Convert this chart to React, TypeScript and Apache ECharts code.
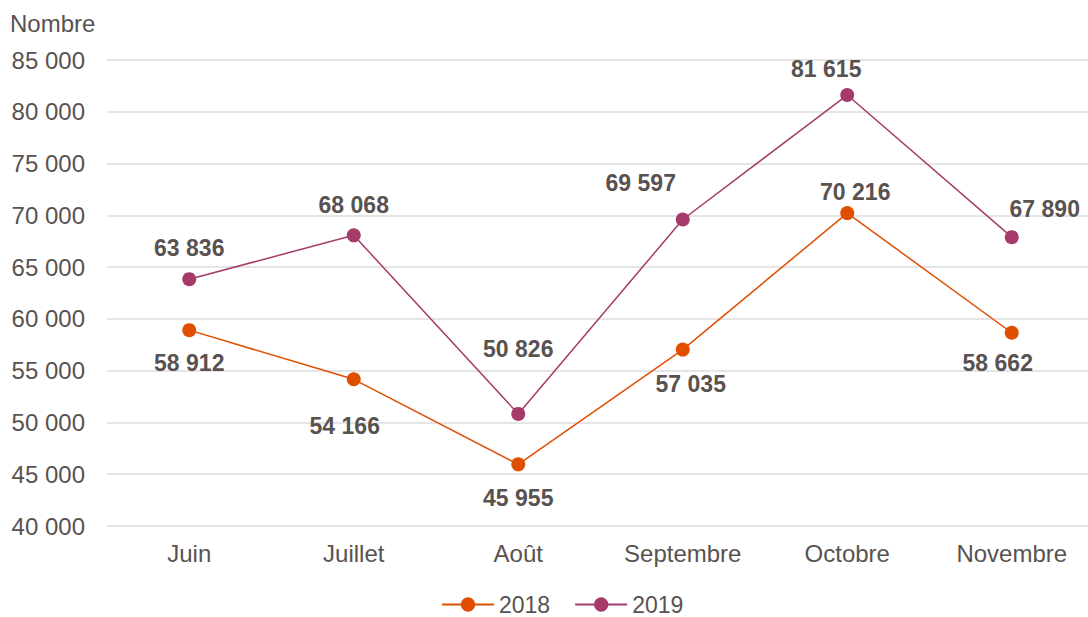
import React, { useEffect, useRef } from "react";
import * as echarts from "echarts";

const categories = ["Juin", "Juillet", "Août", "Septembre", "Octobre", "Novembre"];
const values2018 = [58912, 54166, 45955, 57035, 70216, 58662];
const values2019 = [63836, 68068, 50826, 69597, 81615, 67890];
const offsets2018: [number, number][] = [[0, 33], [-9, 47], [0, 34], [8, 34], [8, -21], [-14, 30]];
const offsets2019: [number, number][] = [[0, -31], [0, -30], [0, -65], [-42, -37], [-21, -26], [33, -28]];

const TEXT = "#595250";
const C2018 = "#E04E00";
const C2019 = "#A63B6B";
const FONT = "Liberation Sans, Arial, sans-serif";

const fmt = (v: number) => String(v).replace(/\B(?=(\d{3})+(?!\d))/g, " ");

function makeData(vals: number[], offs: [number, number][]) {
  return vals.map((v, i) => ({
    value: v,
    label: { position: "inside", offset: offs[i] },
  }));
}

export default function App() {
  const ref = useRef<HTMLDivElement>(null);
  useEffect(() => {
    if (!ref.current) return;
    const chart = echarts.init(ref.current, undefined, { renderer: "svg" });
    const labelStyle = {
      show: true,
      color: TEXT,
      fontSize: 23,
      fontWeight: "bold" as const,
      fontFamily: FONT,
      formatter: (p: any) => fmt(p.value),
    };
    chart.setOption({
      animation: false,
      textStyle: { fontFamily: FONT },
      graphic: [
        {
          type: "text",
          left: 10,
          top: 11,
          style: { text: "Nombre", fill: TEXT, fontSize: 24, fontFamily: FONT },
        },
      ],
      grid: { left: 107, right: 0, top: 60, bottom: 91, containLabel: false },
      legend: {
        top: 588,
        left: 436,
        itemWidth: 52,
        itemHeight: 18,
        itemGap: 24,
        textStyle: { color: TEXT, fontSize: 23, fontFamily: FONT },
        data: ["2018", "2019"],
      },
      xAxis: {
        type: "category",
        data: categories,
        boundaryGap: true,
        axisLine: { show: false },
        axisTick: { show: false },
        axisLabel: { color: TEXT, fontSize: 24, margin: 15, fontFamily: FONT },
      },
      yAxis: {
        type: "value",
        min: 40000,
        max: 85000,
        interval: 5000,
        axisLine: { show: false },
        axisTick: { show: false },
        axisLabel: { color: TEXT, fontSize: 24, margin: 22, fontFamily: FONT, formatter: (v: number) => fmt(v) },
        splitLine: { lineStyle: { color: "#DCDCDC", width: 1.5 } },
      },
      series: [
        {
          name: "2018",
          type: "line",
          data: makeData(values2018, offsets2018),
          symbol: "circle",
          symbolSize: 14,
          itemStyle: { color: C2018 },
          lineStyle: { color: C2018, width: 1.5 },
          label: labelStyle,
        },
        {
          name: "2019",
          type: "line",
          data: makeData(values2019, offsets2019),
          symbol: "circle",
          symbolSize: 14,
          itemStyle: { color: C2019 },
          lineStyle: { color: C2019, width: 1.5 },
          label: labelStyle,
        },
      ],
    });
    return () => chart.dispose();
  }, []);
  return (
    <div style={{ position: "absolute", left: 0, top: 0, width: 1088, height: 617, overflow: "hidden", background: "#fff" }}>
      <div ref={ref} style={{ width: 1094, height: 617 }} />
    </div>
  );
}
